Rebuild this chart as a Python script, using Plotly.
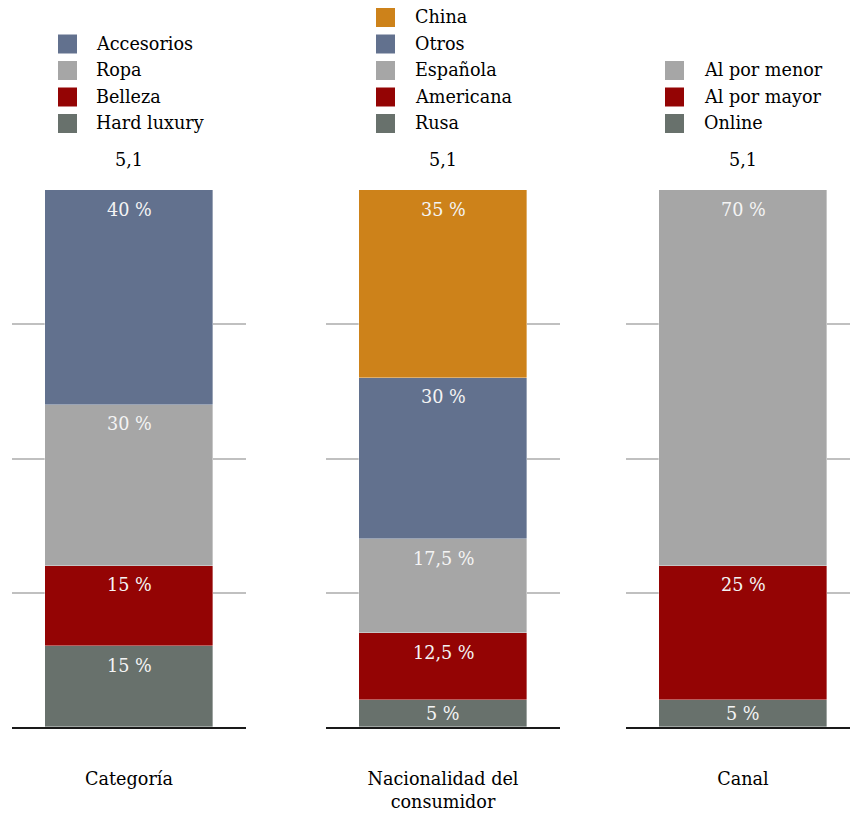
import plotly.graph_objects as go

# Shares (%) of a 5,1 total, split three ways; each list runs bottom -> top of the stack
panel_titles = ["Categoría", "Nacionalidad del<br>consumidor", "Canal"]
total_label = "5,1"

categoria_names = ["Hard luxury", "Belleza", "Ropa", "Accesorios"]
categoria_values = [15, 15, 30, 40]

nacionalidad_names = ["Rusa", "Americana", "Española", "Otros", "China"]
nacionalidad_values = [5, 12.5, 17.5, 30, 35]

canal_names = ["Online", "Al por mayor", "Al por menor"]
canal_values = [5, 25, 70]

palette = {
    "Hard luxury": "#68716c", "Rusa": "#68716c", "Online": "#68716c",
    "Belleza": "#940404", "Americana": "#940404", "Al por mayor": "#940404",
    "Ropa": "#a6a6a6", "Española": "#a6a6a6", "Al por menor": "#a6a6a6",
    "Accesorios": "#62718e", "Otros": "#62718e",
    "China": "#cd821a",
}

FONT = "DejaVu Serif, serif"
FS = 17.6
W, H = 850, 818

# plot-area geometry in pixels
x_domains = [(12, 246), (326, 560), (626, 850)]
x_ranges = [[-0.5, 0.5], [-0.5, 0.5], [-0.5, 0.5 - 10 / 234]]
Y_BOTTOM, Y_TOP = 727, 190
PX_PER_UNIT = (Y_BOTTOM - Y_TOP) / 100

# legend geometry: swatch left edge, text left edge
legend_swatch_x = [58, 376, 665]
legend_text_x = [94, 412.5, 702]
LEGEND_LAST_ROW = 123.5
LEGEND_ROW_STEP = 26.5
SWATCH = 19


def pct_text(v):
    return f"{v:g}".replace(".", ",") + " %"


panels = [
    (categoria_names, categoria_values),
    (nacionalidad_names, nacionalidad_values),
    (canal_names, canal_values),
]

fig = go.Figure()
annotations = []
shapes = []

for i, (names, values) in enumerate(panels):
    sfx = "" if i == 0 else str(i + 1)
    cum = 0
    for name, v in zip(names, values):
        fig.add_trace(go.Bar(
            x=[0], y=[v], name=name,
            xaxis="x" + sfx, yaxis="y" + sfx,
            marker=dict(color=palette[name],
                        line=dict(width=0.8, color="rgba(255,255,255,0.45)")),
            width=0.718,
            showlegend=False,
            hoverinfo="skip",
        ))
        cum += v
        # value label near the top of its segment (centred when the segment is thin)
        half_px = v * PX_PER_UNIT / 2
        annotations.append(dict(
            x=0, y=cum, xref="x" + sfx, yref="y" + sfx,
            text=pct_text(v), showarrow=False,
            yanchor="middle", yshift=-min(19.5, half_px),
            font=dict(family=FONT, size=FS, color="#f4f4f4"),
        ))
    annotations.append(dict(
        x=0, y=cum, xref="x" + sfx, yref="y" + sfx,
        text=total_label, showarrow=False, yanchor="middle", yshift=30,
        font=dict(family=FONT, size=FS, color="#000000"),
    ))

    # legend block, listed top of stack first, bottom-aligned across panels
    ordered = list(reversed(names))
    n = len(ordered)
    for k, name in enumerate(ordered):
        yc = LEGEND_LAST_ROW - (n - 1 - k) * LEGEND_ROW_STEP
        shapes.append(dict(
            type="rect", xref="paper", yref="paper",
            x0=legend_swatch_x[i] / W, x1=(legend_swatch_x[i] + SWATCH) / W,
            y0=1 - (yc + SWATCH / 2) / H, y1=1 - (yc - SWATCH / 2) / H,
            fillcolor=palette[name], line=dict(width=0),
        ))
        annotations.append(dict(
            x=legend_text_x[i] / W, y=1 - yc / H, xref="paper", yref="paper",
            text=name, showarrow=False, xanchor="left", yanchor="middle",
            font=dict(family=FONT, size=FS, color="#000000"),
        ))

layout = dict(
    width=W, height=H,
    margin=dict(l=0, r=0, t=0, b=0),
    paper_bgcolor="#ffffff", plot_bgcolor="rgba(0,0,0,0)",
    barmode="stack",
    bargap=0,
    font=dict(family=FONT, size=FS, color="#000000"),
    showlegend=False,
    annotations=annotations,
    shapes=shapes,
)

for i in range(3):
    sfx = "" if i == 0 else str(i + 1)
    layout["xaxis" + sfx] = dict(
        domain=[x_domains[i][0] / W, x_domains[i][1] / W],
        range=x_ranges[i],
        anchor="y" + sfx,
        tickvals=[0], ticktext=[panel_titles[i]],
        ticks="outside", ticklen=35, tickcolor="rgba(0,0,0,0)",
        tickfont=dict(family=FONT, size=FS, color="#000000"),
        showline=True, linecolor="#1a1a1a", linewidth=2,
        showgrid=False, zeroline=False, fixedrange=True, automargin=False,
    )
    layout["yaxis" + sfx] = dict(
        domain=[1 - Y_BOTTOM / H, 1 - Y_TOP / H], range=[0, 100], anchor="x" + sfx,
        tickvals=[0, 25, 50, 75, 100], showticklabels=False,
        showgrid=True, gridcolor="#c0c0c0", gridwidth=2,
        zeroline=False, fixedrange=True, automargin=False,
    )

fig.update_layout(**layout)
fig.write_html("out.html")
